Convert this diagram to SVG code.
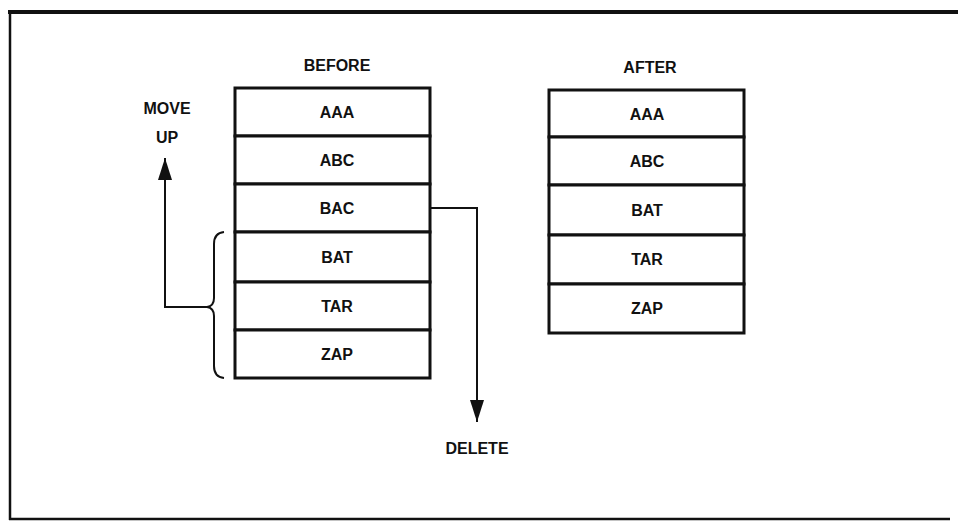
<svg xmlns="http://www.w3.org/2000/svg" width="958" height="522" viewBox="0 0 958 522">
<style>
text{font-family:"Liberation Sans",Arial,sans-serif;font-weight:bold;font-size:16px;fill:#111;text-anchor:middle}
.cell{fill:#fff;stroke:#111;stroke-width:3}
.conn{fill:none;stroke:#111;stroke-width:2}
.frame{fill:none;stroke:#111}
</style>
<defs>
<marker id="ah" viewBox="0 0 22 14" refX="22" refY="7" markerWidth="22" markerHeight="14" markerUnits="userSpaceOnUse" orient="auto">
<path d="M0,0 L22,7 L0,14 Z" fill="#111"/>
</marker>
</defs>
<rect width="958" height="522" fill="#fff"/>
<g id="frame">
<line class="frame" x1="8" y1="12" x2="958" y2="12" stroke-width="4"/>
<line class="frame" x1="10" y1="11" x2="10" y2="520" stroke-width="2.5"/>
<line class="frame" x1="9" y1="519" x2="950" y2="519" stroke-width="2.5"/>
</g>
<g id="labels">
<text x="337" y="71">BEFORE</text>
<text x="650" y="73">AFTER</text>
<text x="167" y="114">MOVE</text>
<text x="167" y="143">UP</text>
<text x="477" y="454">DELETE</text>
</g>
<g id="before">
<g id="b-aaa"><rect class="cell" x="235" y="88" width="195" height="48"/><text x="337" y="118">AAA</text></g>
<g id="b-abc"><rect class="cell" x="235" y="136" width="195" height="48"/><text x="337" y="166">ABC</text></g>
<g id="b-bac"><rect class="cell" x="235" y="184" width="195" height="48"/><text x="337" y="214">BAC</text></g>
<g id="b-bat"><rect class="cell" x="235" y="232" width="195" height="50"/><text x="337" y="263">BAT</text></g>
<g id="b-tar"><rect class="cell" x="235" y="282" width="195" height="48"/><text x="337" y="312">TAR</text></g>
<g id="b-zap"><rect class="cell" x="235" y="330" width="195" height="48"/><text x="337" y="360">ZAP</text></g>
</g>
<g id="after">
<g id="a-aaa"><rect class="cell" x="549" y="90" width="195" height="47"/><text x="647" y="120">AAA</text></g>
<g id="a-abc"><rect class="cell" x="549" y="137" width="195" height="48"/><text x="647" y="167">ABC</text></g>
<g id="a-bat"><rect class="cell" x="549" y="185" width="195" height="50"/><text x="647" y="216">BAT</text></g>
<g id="a-tar"><rect class="cell" x="549" y="235" width="195" height="49"/><text x="647" y="265">TAR</text></g>
<g id="a-zap"><rect class="cell" x="549" y="284" width="195" height="49"/><text x="647" y="314">ZAP</text></g>
</g>
<g id="connectors">
<path id="brace" class="conn" d="M224,232 Q214,233 214,244 L214,298 Q214,306 207,307 Q214,308 214,316 L214,366 Q214,377 224,378"/>
<path id="move-up" class="conn" d="M207,307 L165,307 L165,158" marker-end="url(#ah)"/>
<path id="delete" class="conn" d="M430,208 L477,208 L477,422" marker-end="url(#ah)"/>
</g>
</svg>
